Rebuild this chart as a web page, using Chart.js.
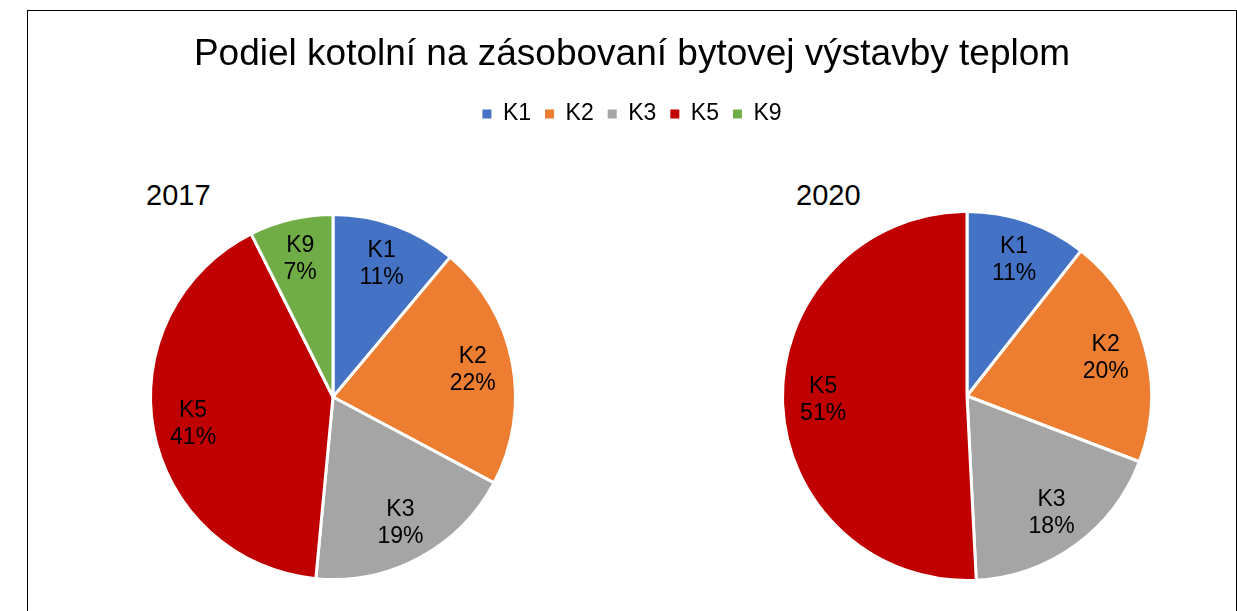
<!DOCTYPE html>
<html>
<head>
<meta charset="utf-8">
<script src="https://cdn.jsdelivr.net/npm/chart.js@4.4.1/dist/chart.umd.min.js"></script>
<style>
  body { margin: 0; background: #fff; font-family: "Liberation Sans", Arial, sans-serif; }
  #frame { position: absolute; left: 27px; top: 10px; width: 1208px; height: 640px; border: 1px solid #000; }
  #head { position: absolute; left: 0; top: 0; width: 1208px; height: 140px; }
  .pieBox { position: absolute; }
  .year { position: absolute; font-size: 29px; color: #000; }
</style>
</head>
<body>
<div id="frame">
  <div id="head"><canvas id="headChart"></canvas></div>
  <div class="year" style="left:118px; top:168px;">2017</div>
  <div class="year" style="left:768px; top:168px;">2020</div>
  <div class="pieBox" id="box1" style="left:117px; top:198px; width:376px; height:376px;"><canvas id="pie2017"></canvas></div>
  <div class="pieBox" id="box2" style="left:751px; top:197px; width:376px; height:376px;"><canvas id="pie2020"></canvas></div>
</div>
<script>
/* --------------- Data --------------------- */
const labels = ["K1", "K2", "K3", "K5", "K9"];
const values2017 = [11.1, 21.7, 18.7, 41.1, 7.4];
const values2020 = [10.6, 20.2, 18.4, 50.8, 0];
const colors = ["#4472C4", "#ED7D31", "#A5A5A5", "#C00000", "#70AD47"];
const titleText = "Podiel kotolní na zásobovaní bytovej výstavby teplom";

Chart.defaults.font.family = '"Liberation Sans", Arial, sans-serif';
Chart.defaults.color = "#000";

/* --------------- Slice labels (name + percent) --------------------- */
const sliceLabels = {
  id: "sliceLabels",
  afterDatasetsDraw(chart) {
    const ctx = chart.ctx;
    const ds = chart.data.datasets[0];
    const total = ds.data.reduce((a, b) => a + b, 0);
    chart.getDatasetMeta(0).data.forEach((arc, i) => {
      const v = ds.data[i];
      if (!v) return;
      const p = arc.getProps(["x", "y", "startAngle", "endAngle", "outerRadius"], true);
      const mid = (p.startAngle + p.endAngle) / 2;
      const r = p.outerRadius * 0.78;
      const x = p.x + Math.cos(mid) * r;
      const y = p.y + Math.sin(mid) * r;
      ctx.save();
      ctx.fillStyle = "#000";
      ctx.font = '23px "Liberation Sans", Arial, sans-serif';
      ctx.textAlign = "center";
      ctx.textBaseline = "middle";
      ctx.fillText(chart.data.labels[i], x, y - 13);
      ctx.fillText(Math.round(v / total * 100) + "%", x, y + 14);
      ctx.restore();
    });
  },
};

/* --------------- Header: title + legend --------------------- */
new Chart(document.getElementById("headChart"), {
  type: "pie",
  data: {
    labels: labels,
    datasets: [{ data: values2017, backgroundColor: colors, borderWidth: 0, circumference: 0 }],
  },
  options: {
    responsive: true,
    maintainAspectRatio: false,
    animation: false,
    events: [],
    plugins: {
      tooltip: { enabled: false },
      title: {
        display: true,
        text: titleText,
        font: { size: 37, weight: "normal" },
        padding: { top: 22, bottom: 11 },
      },
      legend: {
        display: true,
        labels: {
          boxWidth: 9,
          boxHeight: 9,
          padding: 14,
          font: { size: 23 },
          generateLabels: (chart) => labels.map((l, i) => ({
            text: l, fillStyle: colors[i], strokeStyle: colors[i], lineWidth: 0, index: i,
          })),
        },
      },
    },
  },
});

/* --------------- Pies --------------------- */
function makePie(id, values, pad) {
  return new Chart(document.getElementById(id), {
    type: "pie",
    plugins: [sliceLabels],
    data: {
      labels: labels,
      datasets: [{ data: values, backgroundColor: colors, borderColor: "#fff", borderWidth: 3 }],
    },
    options: {
      responsive: true,
      maintainAspectRatio: false,
      animation: false,
      layout: { padding: pad },
      plugins: {
        tooltip: { enabled: false },
        legend: { display: false },
      },
    },
  });
}
makePie("pie2017", values2017, 4);
makePie("pie2020", values2020, 2);
</script>
</body>
</html>
